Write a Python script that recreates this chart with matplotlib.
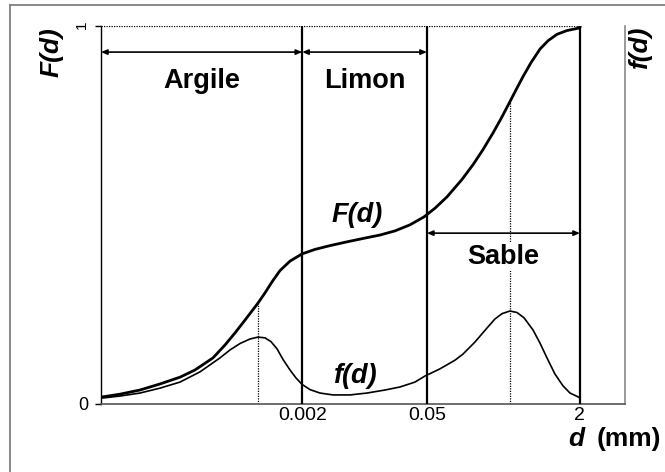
import numpy as np
import matplotlib
matplotlib.use("Agg")
import matplotlib.pyplot as plt
from matplotlib.lines import Line2D

plt.rcParams["font.family"] = ["Liberation Sans", "DejaVu Sans"]

# schematic position along the (log) diameter axis, 0..100
x_F = [0.38, 3.63, 7.44, 11.26, 15.08, 17.94, 21.37, 23.66, 25.57, 27.48, 29.96, 31.30,
       32.63, 34.16, 36.07, 38.36, 40.84, 43.70, 46.95, 50.38, 53.24, 56.11, 58.97, 61.64,
       63.74, 66.03, 68.89, 70.99, 72.90, 74.81, 76.34, 77.86, 79.20, 80.53, 82.06, 83.78,
       85.31, 87.02, 88.93, 91.03, 91.41]
F_vals = [0.019, 0.026, 0.037, 0.053, 0.071, 0.090, 0.122, 0.156, 0.188, 0.222, 0.267, 0.294,
          0.323, 0.353, 0.378, 0.397, 0.409, 0.419, 0.429, 0.439, 0.447, 0.458, 0.474, 0.495,
          0.518, 0.548, 0.594, 0.633, 0.673, 0.717, 0.755, 0.795, 0.831, 0.866, 0.903, 0.939,
          0.961, 0.978, 0.988, 0.994, 0.998]

x_f = [0.38, 3.63, 7.44, 11.26, 15.08, 18.89, 22.71, 24.62, 26.53, 28.44, 29.96, 31.30,
       32.44, 33.59, 34.73, 36.07, 37.21, 38.36, 39.89, 41.79, 44.27, 47.52, 50.76, 54.20,
       57.06, 59.92, 61.83, 64.69, 67.56, 69.08, 71.37, 73.66, 75.19, 76.53, 78.05, 79.39,
       80.73, 82.44, 83.78, 85.11, 86.64, 88.17, 89.50, 91.03, 91.41]
f_vals = [0.016, 0.021, 0.029, 0.042, 0.058, 0.085, 0.122, 0.143, 0.160, 0.172, 0.177, 0.175,
          0.165, 0.146, 0.118, 0.090, 0.069, 0.052, 0.038, 0.029, 0.024, 0.024, 0.029, 0.037,
          0.045, 0.058, 0.074, 0.093, 0.116, 0.132, 0.164, 0.201, 0.225, 0.239, 0.246, 0.242,
          0.228, 0.196, 0.161, 0.122, 0.079, 0.048, 0.029, 0.019, 0.016]

# class limits (d in mm) and their positions on the axis
limit_pos = [38.4, 62.2, 91.4]
limit_labels = ["0.002", "0.05", "2"]
peak_pos = [30.0, 78.05]

classes = ["Argile", "Limon", "Sable"]
class_span = [(0.0, 38.4), (38.4, 62.2), (62.2, 91.4)]
class_arrow_y = [0.931, 0.931, 0.452]
class_text_y = [0.855, 0.855, 0.390]

fig = plt.figure(figsize=(6.65, 4.72), dpi=100)
ax = fig.add_axes([101 / 665, 1 - 404 / 472, 524 / 665, 378 / 472])
ax.set_xlim(0, 100)
ax.set_ylim(0, 1)

# figure frame (left and top edges visible)
fig.add_artist(Line2D([10 / 665, 10 / 665], [0, 1 - 5 / 472], color="#808080", lw=1.3,
                      transform=fig.transFigure))
fig.add_artist(Line2D([10 / 665, 1], [1 - 5 / 472, 1 - 5 / 472], color="#808080", lw=1.3,
                      transform=fig.transFigure))

# curves
ax.plot(x_F, F_vals, color="black", lw=2.0, solid_joinstyle="round", zorder=4)
ax.plot(x_f, f_vals, color="black", lw=1.2, solid_joinstyle="round", zorder=4)

# class limit lines
for p in limit_pos:
    ax.plot([p, p], [0, 1], color="black", lw=1.6, zorder=3)
ax.plot([0, limit_pos[-1]], [1, 1], color="black", lw=0.9, ls=(0, (1, 1)), zorder=3)

# dotted lines at the peaks of f(d)
for p in peak_pos:
    top = np.interp(p, x_F, F_vals)
    ax.plot([p, p], [0, top], color="black", lw=0.9, ls=(0, (1, 1)), zorder=2)

# class arrows and names
for name, (a, b), ya, yt in zip(classes, class_span, class_arrow_y, class_text_y):
    ax.annotate("", xy=(a, ya), xytext=(b, ya),
                arrowprops=dict(arrowstyle="<|-|>,head_length=0.35,head_width=0.15",
                                color="black", lw=1.2, shrinkA=0, shrinkB=0), zorder=5)
    ax.text((a + b) / 2, yt, name, ha="center", va="center", fontsize=19.5, fontweight="bold",
            bbox=dict(facecolor="white", edgecolor="none", pad=1), zorder=6)

ax.text(48.8, 0.50, "F(d)", fontsize=19.5, fontweight="bold", style="italic",
        ha="center", va="center", zorder=6)
ax.text(48.5, 0.075, "f(d)", fontsize=19.5, fontweight="bold", style="italic",
        ha="center", va="center", zorder=6)

# axes styling
ax.spines["top"].set_visible(False)
ax.spines["left"].set_color("black")
ax.spines["left"].set_linewidth(1.0)
ax.spines["bottom"].set_color("#555555")
ax.spines["bottom"].set_linewidth(1.2)
ax.spines["right"].set_color("#888888")
ax.spines["right"].set_linewidth(1.2)

ax.set_xticks(limit_pos)
ax.set_xticklabels(limit_labels, fontsize=14)
ax.tick_params(axis="x", length=0, pad=2)
ax.set_yticks([0, 1])
ax.set_yticklabels(["0", "1"], fontsize=13)
ax.tick_params(axis="y", length=4, width=1.0, pad=5)
ax.get_yticklabels()[1].set_rotation(90)
ax.get_yticklabels()[1].set_fontsize(11)

fig.text(52 / 665, 1 - 52 / 472, "F(d)", rotation=90, fontsize=19, fontweight="bold",
         style="italic", ha="center", va="center")
fig.text(640 / 665, 1 - 48 / 472, "f(d)", rotation=90, fontsize=19, fontweight="bold",
         style="italic", ha="center", va="center")
fig.text(576 / 665, 1 - 439 / 472, "d", fontsize=19, fontweight="bold", style="italic",
         ha="center", va="center")
fig.text(629 / 665, 1 - 439 / 472, "(mm)", fontsize=19, fontweight="bold",
         ha="center", va="center")

fig.savefig("out.png", dpi=100)
